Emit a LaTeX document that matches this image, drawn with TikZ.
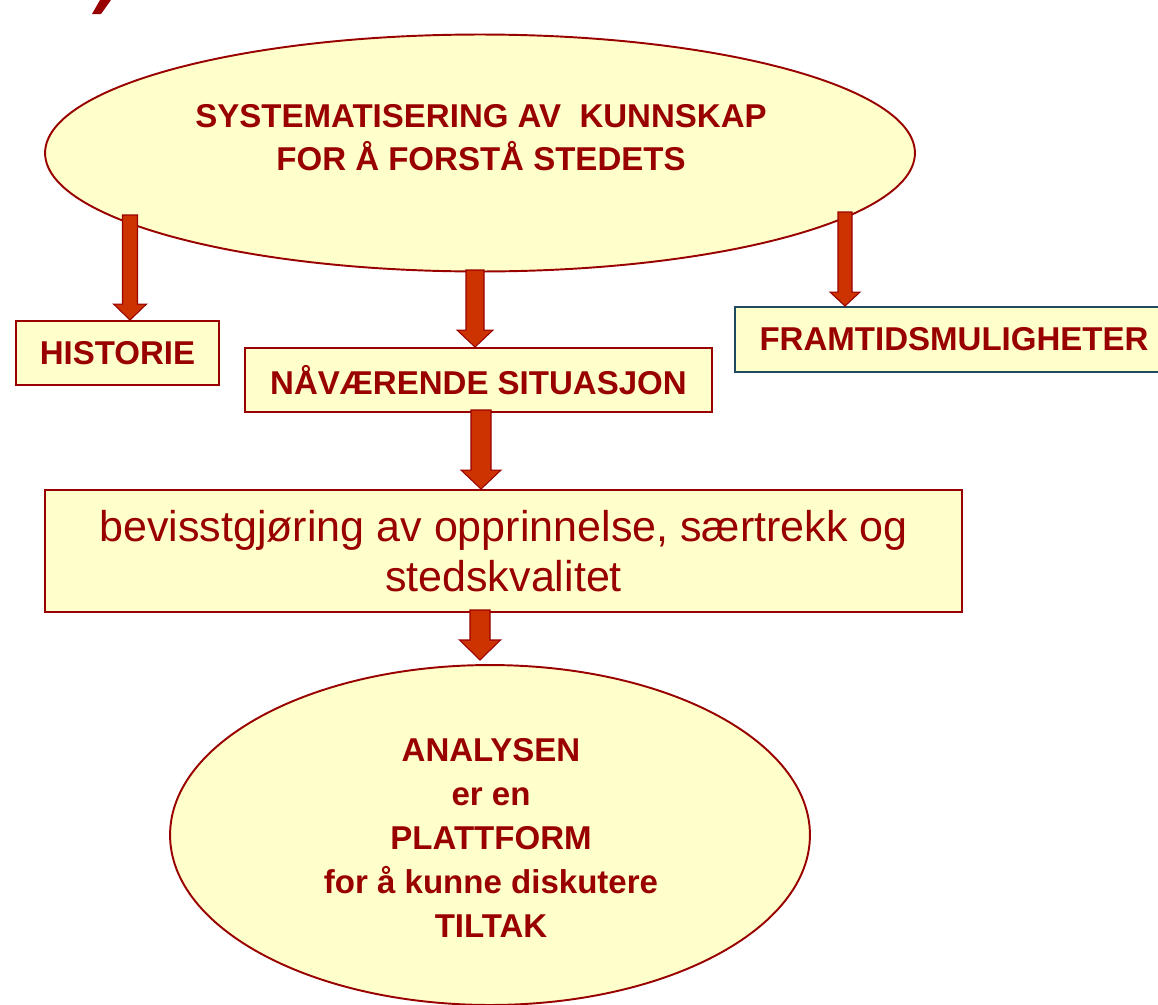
\documentclass[tikz,border=0pt]{standalone}
\usepackage{fontspec}
\setmainfont{Liberation Sans}
\usetikzlibrary{shapes.geometric,calc}
\definecolor{boxyellow}{HTML}{FFFFCC}
\definecolor{boxred}{HTML}{990000}
\definecolor{arrowred}{HTML}{CC3300}
\definecolor{boxslate}{HTML}{1F4A5F}

% block arrow: from, to, half shaft, half head, head length
\newcommand{\blockarr}[5]{%
  \draw[bigarrow] let \p1=(#1), \p2=(#2) in
    (\x1-#3,\y1) -- (\x1-#3,\y2+#5) -- (\x1-#4,\y2+#5) -- (\x1,\y2)
    -- (\x1+#4,\y2+#5) -- (\x1+#3,\y2+#5) -- (\x1+#3,\y1) -- cycle;}

\begin{document}
\begin{tikzpicture}[
  x=0.02cm, y=-0.02cm,
  font=\fontsize{18.8}{24.4}\selectfont\bfseries,
  oval/.style={ellipse, draw=boxred, fill=boxyellow, line width=1.1pt, inner sep=0pt},
  box/.style={rectangle, draw=boxred, fill=boxyellow, line width=1.1pt, text=boxred, align=center, inner sep=0pt},
  redtext/.style={text=boxred, align=center},
  bigarrow/.style={draw=boxred, fill=arrowred, line width=0.6pt, line join=miter}
]
\useasboundingbox (0,0) rectangle (1158,1004);
\clip (0,0) rectangle (1158,1004);

% piece of cut title
\fill[boxred] (100,0) -- (111,0) -- (101,14) -- (92,14) -- cycle;

\node[oval, minimum width=17.4cm, minimum height=4.74cm] (kunnskap) at (480,153) {};
\node[redtext] (kunnskaptxt) at (481,138) {SYSTEMATISERING AV\ \ KUNNSKAP\\FOR Å FORSTÅ STEDETS};

\node[box, minimum width=4.06cm, minimum height=1.28cm] (historie) at (117.5,353) {HISTORIE};
\node[box, minimum width=9.34cm, minimum height=1.28cm] (situasjon) at (478.5,380) {NÅVÆRENDE SITUASJON};
\node[box, draw=boxslate, minimum width=8.76cm, minimum height=1.3cm] (framtid) at (954,339.5) {FRAMTIDSMULIGHETER};

\node[box, minimum width=18.34cm, minimum height=2.44cm,
  font=\fontsize{24.5}{28.3}\selectfont\mdseries] (bevisst) at (503.5,551)
  {bevisstgjøring av opprinnelse, særtrekk og\\stedskvalitet};

\node[oval, minimum width=12.8cm, minimum height=6.8cm] (analysen) at (490,835) {};
\node[redtext, font=\fontsize{18.8}{25}\selectfont\bfseries] (analysentxt) at (491,838)
  {ANALYSEN\\er en\\PLATTFORM\\for å kunne diskutere\\TILTAK};

\coordinate (hstart) at (130,215);
\coordinate (sstart) at (475,270);
\coordinate (fstart) at (845,212);
\coordinate (bstart) at (481,410);
\coordinate (astart) at (480,610);
\coordinate (aend) at (480,660);

\blockarr{hstart}{hstart |- historie.north}{0.15cm}{0.33cm}{0.32cm}
\blockarr{sstart}{sstart |- situasjon.north}{0.18cm}{0.36cm}{0.34cm}
\blockarr{fstart}{fstart |- framtid.north}{0.14cm}{0.3cm}{0.28cm}
\blockarr{bstart}{bstart |- bevisst.north}{0.2cm}{0.4cm}{0.38cm}
\blockarr{astart}{aend}{0.2cm}{0.41cm}{0.4cm}

\end{tikzpicture}
\end{document}
